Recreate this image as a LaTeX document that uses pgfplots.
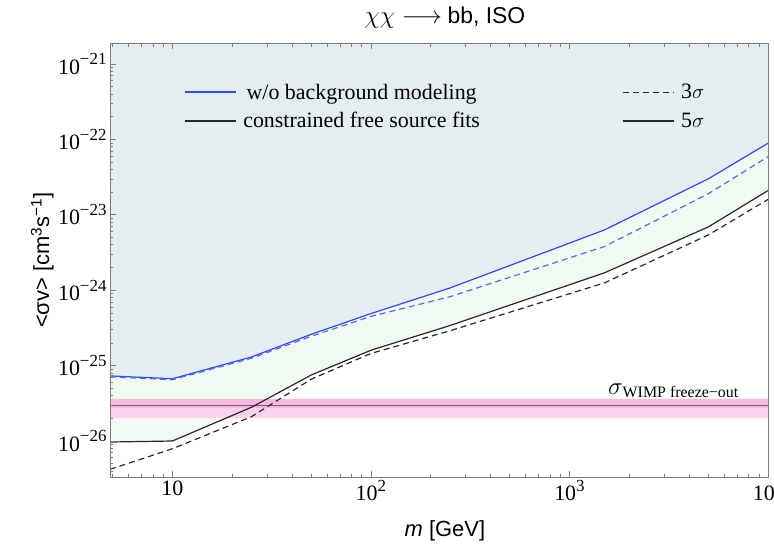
\documentclass[border=0pt]{standalone}
\usepackage{fontspec}
\setmainfont{Liberation Serif}
\setsansfont{Liberation Sans}
\usepackage{pgfplots}
\pgfplotsset{compat=1.18}
\definecolor{bgblue}{RGB}{228,237,240}
\definecolor{bggreen}{RGB}{240,250,240}
\definecolor{wimppink}{RGB}{248,184,228}
\definecolor{wimppale}{RGB}{250,210,238}
\definecolor{wimpline}{RGB}{115,95,105}
\definecolor{bluesolid}{RGB}{50,70,250}
\definecolor{bluedash}{RGB}{80,110,240}
\definecolor{blk}{RGB}{40,40,40}
\definecolor{axisgray}{RGB}{125,125,125}
\newcommand{\sx}[1]{\raisebox{0.42em}{\fontsize{17}{17}\selectfont #1}}
\begin{document}
\begin{tikzpicture}
\begin{axis}[name=ax, scale only axis, width=658bp, height=434bp, axis on top,
  xmode=log, ymode=log, xmin=4.85, xmax=10000, ymin=3.33e-27, ymax=1.9e-21,
  axis line style={draw=axisgray, line width=0.9bp},
  ytick pos=left,
  tick align=inside, major tick length=6bp, minor tick length=3.5bp,
  tick style={draw=axisgray, line width=0.7bp},
  xtick={10,100,1000,10000},
  xticklabels={10,10\sx{2},10\sx{3},10\sx{4}},
  minor xtick={5,6,7,8,9,20,30,40,50,60,70,80,90,200,300,400,500,600,700,800,900,2000,3000,4000,5000,6000,7000,8000,9000},
  ytick={1e-26,1e-25,1e-24,1e-23,1e-22,1e-21},
  yticklabels={10\sx{−26},10\sx{−25},10\sx{−24},10\sx{−23},10\sx{−22},10\sx{−21}},
  minor ytick={4e-27,5e-27,6e-27,7e-27,8e-27,9e-27,2e-26,3e-26,4e-26,5e-26,6e-26,7e-26,8e-26,9e-26,2e-25,3e-25,4e-25,5e-25,6e-25,7e-25,8e-25,9e-25,2e-24,3e-24,4e-24,5e-24,6e-24,7e-24,8e-24,9e-24,2e-23,3e-23,4e-23,5e-23,6e-23,7e-23,8e-23,9e-23,2e-22,3e-22,4e-22,5e-22,6e-22,7e-22,8e-22,9e-22},
  tick label style={font=\fontsize{22}{24}\selectfont},
  xlabel={\sffamily\itshape m\upshape\ [GeV]},
  xlabel style={font=\fontsize{22}{26}\selectfont, at={(axis description cs:0.509,-0.125)}, anchor=center},
  ylabel={\sffamily <σv> [cm\textsuperscript{3}s\textsuperscript{−1}]},
  ylabel style={font=\fontsize{22}{26}\selectfont, at={(axis description cs:-0.103,0.5)}, anchor=center},
  title={$\chi\chi\longrightarrow$ \sffamily bb, ISO},
  title style={font=\fontsize{23}{26}\selectfont, at={(axis description cs:0.509,1.045)}, anchor=center},
  legend columns=2,
  legend image code/.code={\draw[#1] (0bp,0bp) -- (51bp,0bp);},
  legend style={draw=none, fill=none, inner sep=0pt, at={(axis description cs:0.112,0.911)}, anchor=north west,
    font=\fontsize{22}{26}\selectfont, row sep=8bp,
    /tikz/every odd column/.append style={column sep=5bp},
    /tikz/column 2/.style={column sep=140bp}},
]
% region above the blue limit
\addplot[fill=bgblue, draw=none, forget plot] coordinates {
 (4.85,7.3e-26) (10,6.7e-26) (25,1.3e-25) (50,2.6e-25) (100,4.9e-25) (250,1.07e-24) (1500,6.3e-24) (5000,3.0e-23) (10000,8.9e-23)
 (10000,1.9e-21) (4.85,1.9e-21)} -- cycle;
% region between blue and black limits
\addplot[fill=bggreen, draw=none, forget plot] coordinates {
 (4.85,7.3e-26) (10,6.7e-26) (25,1.3e-25) (50,2.6e-25) (100,4.9e-25) (250,1.07e-24) (1500,6.3e-24) (5000,3.0e-23) (10000,8.9e-23)
 (10000,2.1e-23) (5000,6.9e-24) (1500,1.7e-24) (250,3.4e-25) (100,1.6e-25) (50,7.5e-26) (25,2.8e-26) (10,1.0e-26) (4.85,9.7e-27)} -- cycle;
% WIMP band
\addplot[fill=wimppale, draw=none, forget plot] coordinates {(4.85,2.0e-26) (10000,2.0e-26) (10000,2.75e-26) (4.85,2.75e-26)} -- cycle;
\addplot[fill=wimppink, draw=none, forget plot] coordinates {(4.85,2.75e-26) (10000,2.75e-26) (10000,3.65e-26) (4.85,3.65e-26)} -- cycle;
\addplot[wimpline, line width=1bp, forget plot] coordinates {(4.85,3e-26) (10000,3e-26)};
% curves
\addplot[bluesolid, line width=1.2bp, forget plot] coordinates {
 (4.85,7.3e-26) (10,6.7e-26) (25,1.3e-25) (50,2.6e-25) (100,4.9e-25) (250,1.07e-24) (1500,6.3e-24) (5000,3.0e-23) (10000,8.9e-23)};
\addplot[bluedash, line width=1.2bp, dash pattern=on 6bp off 4bp, forget plot] coordinates {
 (4.85,7.1e-26) (10,6.5e-26) (25,1.25e-25) (50,2.45e-25) (100,4.5e-25) (250,8.2e-25) (1500,3.8e-24) (5000,1.9e-23) (10000,5.9e-23)};
\addplot[blk, line width=1.2bp, forget plot] coordinates {
 (4.85,9.7e-27) (10,1.0e-26) (25,2.8e-26) (50,7.5e-26) (100,1.6e-25) (250,3.4e-25) (1500,1.7e-24) (5000,6.9e-24) (10000,2.1e-23)};
\addplot[blk, line width=1.2bp, dash pattern=on 6bp off 4bp, forget plot] coordinates {
 (4.85,4.2e-27) (10,7.9e-27) (25,2.1e-26) (50,6.6e-26) (100,1.45e-25) (250,2.9e-25) (1500,1.25e-24) (5000,5.4e-24) (10000,1.6e-23)};
\node[anchor=base west, inner sep=0pt, text=black] at (axis cs:1560,4.2e-26)
  {{\fontsize{26}{26}\selectfont$\sigma$}\raisebox{-3bp}{\fontsize{16}{18}\selectfont WIMP freeze−out}};
\addlegendimage{draw=bluesolid, line width=1.4bp, solid}
\addlegendentry{w/o background modeling}
\addlegendimage{draw=blk, line width=1.2bp, dash pattern=on 6bp off 4bp}
\addlegendentry{3$\sigma$}
\addlegendimage{draw=blk, line width=1.2bp, solid}
\addlegendentry{constrained free source fits}
\addlegendimage{draw=blk, line width=1.2bp, solid}
\addlegendentry{5$\sigma$}
\end{axis}
\pgfresetboundingbox
\path[use as bounding box] ([xshift=-110bp,yshift=-67bp]ax.south west) rectangle ([xshift=6bp,yshift=43bp]ax.north east);
\end{tikzpicture}
\end{document}
